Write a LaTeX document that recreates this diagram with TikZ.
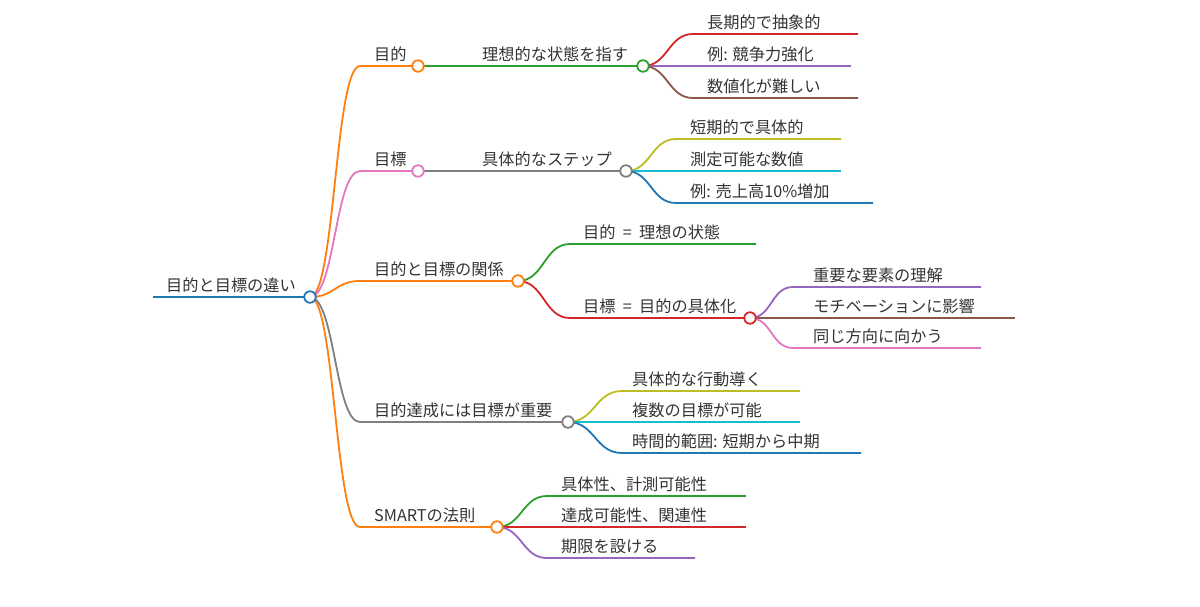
\documentclass[tikz,border=0pt]{standalone}
\usepackage{fontspec}
\setmainfont{Noto Sans CJK JP}
\usetikzlibrary{backgrounds}
\definecolor{cBlue}{HTML}{1F77B4}
\definecolor{cOrange}{HTML}{FF7F0E}
\definecolor{cGreen}{HTML}{2CA02C}
\definecolor{cRed}{HTML}{D62728}
\definecolor{cPurple}{HTML}{9467BD}
\definecolor{cBrown}{HTML}{8C564B}
\definecolor{cPink}{HTML}{E377C2}
\definecolor{cGray}{HTML}{7F7F7F}
\definecolor{cOlive}{HTML}{BCBD22}
\definecolor{cCyan}{HTML}{17BECF}
\definecolor{txtgray}{HTML}{333333}
\newcommand{\eqsp}{\hspace{0.45em}=\hspace{0.45em}}
\tikzset{
  lbl/.style={anchor=base west, inner sep=0pt, text=txtgray, font=\fontsize{16.2}{20}\selectfont},
  dot/.style={circle, draw=#1, fill=white, line width=1.8pt, minimum size=11.5pt, inner sep=0pt},
  edge/.style={draw=#1, line width=1.8pt},
}
\begin{document}
\begin{tikzpicture}[x=1pt,y=-1pt]
\useasboundingbox (0,0) rectangle (1200,606);
% circle nodes
\node[dot=cBlue]   (r)  at (310,297) {};
\node[dot=cOrange] (a)  at (418,66) {};
\node[dot=cPink]   (b)  at (418,171) {};
\node[dot=cOrange] (c)  at (518,281) {};
\node[dot=cGray]   (d)  at (568,422) {};
\node[dot=cOrange] (e)  at (497,527) {};
\node[dot=cGreen]  (a1) at (643,66) {};
\node[dot=cGray]   (b1) at (626,171) {};
\node[dot=cRed]    (c2) at (750,318) {};
% turn and end coordinates
\coordinate (r0) at (153,297);
\coordinate (ka) at (360,66);
\coordinate (kb) at (360,171);
\coordinate (kc) at (360,281);
\coordinate (kd) at (360,422);
\coordinate (ke) at (360,527);
\coordinate (ka11) at (693,34);  \coordinate (ea11) at (858,34);
\coordinate (ea12) at (851,66);
\coordinate (ka13) at (693,98);  \coordinate (ea13) at (858,98);
\coordinate (kb11) at (676,139); \coordinate (eb11) at (841,139);
\coordinate (eb12) at (841,171);
\coordinate (kb13) at (676,203); \coordinate (eb13) at (873,203);
\coordinate (kc1) at (570,244);  \coordinate (ec1) at (756,244);
\coordinate (kc2) at (570,318);
\coordinate (kc21) at (793,287); \coordinate (ec21) at (981,287);
\coordinate (ec22) at (1015,318);
\coordinate (kc23) at (793,348); \coordinate (ec23) at (981,348);
\coordinate (kd1) at (622,391);  \coordinate (ed1) at (800,391);
\coordinate (ed2) at (800,422);
\coordinate (kd3) at (622,453);  \coordinate (ed3) at (861,453);
\coordinate (ke1) at (547,496);  \coordinate (ee1) at (746,496);
\coordinate (ee2) at (746,527);
\coordinate (ke3) at (547,558);  \coordinate (ee3) at (695,558);
% labels
\node[lbl] (tr) at (166,291) {目的と目標の違い};
\node[lbl] (ta) at (374,60) {目的};
\node[lbl] (tb) at (374,165) {目標};
\node[lbl] (tc) at (374,275) {目的と目標の関係};
\node[lbl] (td) at (374,416) {目的達成には目標が重要};
\node[lbl] (te) at (374,521) {SMARTの法則};
\node[lbl] (ta1) at (482,60) {理想的な状態を指す};
\node[lbl] (tb1) at (482,165) {具体的なステップ};
\node[lbl] (ta11) at (707,28) {長期的で抽象的};
\node[lbl] (ta12) at (707,60) {例: 競争力強化};
\node[lbl] (ta13) at (707,92) {数値化が難しい};
\node[lbl] (tb11) at (690,133) {短期的で具体的};
\node[lbl] (tb12) at (690,165) {測定可能な数値};
\node[lbl] (tb13) at (690,197) {例: 売上高10\%増加};
\node[lbl] (tc1) at (583,238) {目的\eqsp 理想の状態};
\node[lbl] (tc2) at (583,312) {目標\eqsp 目的の具体化};
\node[lbl] (tc21) at (813,281) {重要な要素の理解};
\node[lbl] (tc22) at (813,312) {モチベーションに影響};
\node[lbl] (tc23) at (813,342) {同じ方向に向かう};
\node[lbl] (td1) at (632,385) {具体的な行動導く};
\node[lbl] (td2) at (632,416) {複数の目標が可能};
\node[lbl] (td3) at (632,447) {時間的範囲: 短期から中期};
\node[lbl] (te1) at (561,490) {具体性、計測可能性};
\node[lbl] (te2) at (561,521) {達成可能性、関連性};
\node[lbl] (te3) at (561,552) {期限を設ける};
% connectors
\begin{pgfonlayer}{background}
\draw[edge=cBlue, line width=2.6pt] (r0) -- (r.center);
\draw[edge=cOrange] (r.center) .. controls +(25,0) and +(-25,0) .. (ka) -- (a.center);
\draw[edge=cPink]   (r.center) .. controls +(25,0) and +(-25,0) .. (kb) -- (b.center);
\draw[edge=cOrange] (r.center) .. controls +(25,0) and +(-25,0) .. (kc) -- (c.center);
\draw[edge=cGray]   (r.center) .. controls +(25,0) and +(-25,0) .. (kd) -- (d.center);
\draw[edge=cOrange] (r.center) .. controls +(25,0) and +(-25,0) .. (ke) -- (e.center);
\draw[edge=cGreen] (a.center) -- (a1.center);
\draw[edge=cGray]  (b.center) -- (b1.center);
\draw[edge=cRed]    (a1.center) .. controls +(25,0) and +(-25,0) .. (ka11) -- (ea11);
\draw[edge=cPurple] (a1.center) -- (ea12);
\draw[edge=cBrown]  (a1.center) .. controls +(25,0) and +(-25,0) .. (ka13) -- (ea13);
\draw[edge=cOlive] (b1.center) .. controls +(25,0) and +(-25,0) .. (kb11) -- (eb11);
\draw[edge=cCyan]  (b1.center) -- (eb12);
\draw[edge=cBlue]  (b1.center) .. controls +(25,0) and +(-25,0) .. (kb13) -- (eb13);
\draw[edge=cGreen] (c.center) .. controls +(26,0) and +(-26,0) .. (kc1) -- (ec1);
\draw[edge=cRed]   (c.center) .. controls +(26,0) and +(-26,0) .. (kc2) -- (c2.center);
\draw[edge=cPurple] (c2.center) .. controls +(22,0) and +(-22,0) .. (kc21) -- (ec21);
\draw[edge=cBrown]  (c2.center) -- (ec22);
\draw[edge=cPink]   (c2.center) .. controls +(22,0) and +(-22,0) .. (kc23) -- (ec23);
\draw[edge=cOlive] (d.center) .. controls +(27,0) and +(-27,0) .. (kd1) -- (ed1);
\draw[edge=cCyan]  (d.center) -- (ed2);
\draw[edge=cBlue]  (d.center) .. controls +(27,0) and +(-27,0) .. (kd3) -- (ed3);
\draw[edge=cGreen]  (e.center) .. controls +(25,0) and +(-25,0) .. (ke1) -- (ee1);
\draw[edge=cRed]    (e.center) -- (ee2);
\draw[edge=cPurple] (e.center) .. controls +(25,0) and +(-25,0) .. (ke3) -- (ee3);
\end{pgfonlayer}
\end{tikzpicture}
\end{document}
